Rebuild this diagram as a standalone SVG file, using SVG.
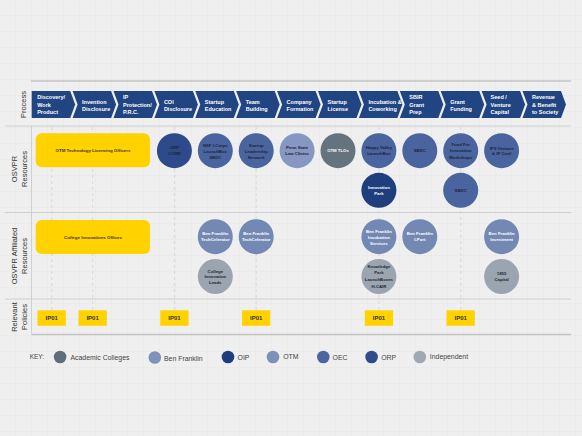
<svg xmlns="http://www.w3.org/2000/svg" width="582" height="436" viewBox="0 0 582 436">
<defs>
<pattern id="grid" width="16" height="16" patternUnits="userSpaceOnUse">
<path d="M16 0V16M0 16H16" fill="none" stroke="#e4e4e4" stroke-width="0.7"/>
</pattern>
<style>
text{font-family:"Liberation Sans",Arial,sans-serif}
.chev{fill:#214482}
.ct{fill:#fff;font-size:5.5px;font-weight:bold}
.row{fill:#333;font-size:7.5px;text-anchor:middle}
.sep{stroke:#cfcfcf;stroke-width:1;fill:none}
.heavy{stroke:#c4c4c4;stroke-width:1.6;fill:none}
.dash{stroke:#d2d2d2;stroke-width:0.8;stroke-dasharray:3 3;fill:none}
.yb{fill:#ffd200}
.yt{fill:#3a3424;font-size:4.4px;font-weight:bold;text-anchor:middle}
.nt{font-size:4.3px;font-weight:bold;text-anchor:middle}
.dk{fill:#1d2536}
.wt{fill:#ffffff}
.oec{fill:#4a64a0}
.orp{fill:#2e4a8a}
.oip{fill:#1e3e7e}
.otm{fill:#8597c2}
.acad{fill:#65737f}
.bf{fill:#7388b3}
.ind{fill:#9ba5b0}
.ip{fill:#ffd200}
.ipt{fill:#333;font-size:6px;font-weight:bold;text-anchor:middle}
.kt{fill:#444;font-size:6.9px}
</style>
</defs>
<rect width="582" height="436" fill="#efefef"/>
<rect width="582" height="436" fill="url(#grid)"/>

<g id="frame">
<line class="heavy" x1="31" y1="81" x2="571" y2="81"/>
<line class="sep" x1="5" y1="126" x2="571" y2="126"/>
<line class="sep" x1="5" y1="212.5" x2="571" y2="212.5"/>
<line class="sep" x1="5" y1="299" x2="571" y2="299"/>
<line class="heavy" x1="31.5" y1="334.5" x2="571" y2="334.5"/>
<line class="sep" x1="31.5" y1="126" x2="31.5" y2="334"/>
</g>

<g id="row-labels">
<text class="row" transform="rotate(-90 26 104.5)" x="26" y="104.5">Process</text>
<text class="row" transform="rotate(-90 17 169)" x="17" y="169">OSVPR</text>
<text class="row" transform="rotate(-90 27 169)" x="27" y="169">Resources</text>
<text class="row" transform="rotate(-90 17 256)" x="17" y="256">OSVPR Affiliated</text>
<text class="row" transform="rotate(-90 27 256)" x="27" y="256">Resources</text>
<text class="row" transform="rotate(-90 17 317)" x="17" y="317">Relevant</text>
<text class="row" transform="rotate(-90 27 317)" x="27" y="317">Policies</text>
</g>

<g id="connectors">
<line class="dash" x1="51.7" y1="127" x2="51.7" y2="310"/>
<line class="dash" x1="92.6" y1="127" x2="92.6" y2="310"/>
<line class="dash" x1="174.4" y1="127" x2="174.4" y2="310"/>
<line class="dash" x1="256.2" y1="127" x2="256.2" y2="310"/>
<line class="dash" x1="379" y1="127" x2="379" y2="310"/>
<line class="dash" x1="460.7" y1="127" x2="460.7" y2="310"/>
</g>

<g id="process">
<g id="p1"><polygon class="chev" points="31.7,91 70.2,91 75.2,104.5 70.2,118 31.7,118"/>
<text class="ct" x="37.2" y="99.3">Discovery/</text><text class="ct" x="37.2" y="106.5">Work</text><text class="ct" x="37.2" y="113.7">Product</text></g>
<g id="p2"><polygon class="chev" points="72.6,91 111.1,91 116.1,104.5 111.1,118 72.6,118 77.6,104.5"/>
<text class="ct" x="82.1" y="103.7">Invention</text><text class="ct" x="82.1" y="110.9">Disclosure</text></g>
<g id="p3"><polygon class="chev" points="113.5,91 152,91 157,104.5 152,118 113.5,118 118.5,104.5"/>
<text class="ct" x="123" y="99.3">IP</text><text class="ct" x="123" y="106.5">Protection/</text><text class="ct" x="123" y="113.7">P.R.C.</text></g>
<g id="p4"><polygon class="chev" points="154.4,91 192.9,91 197.9,104.5 192.9,118 154.4,118 159.4,104.5"/>
<text class="ct" x="163.9" y="103.7">COI</text><text class="ct" x="163.9" y="110.9">Disclosure</text></g>
<g id="p5"><polygon class="chev" points="195.3,91 233.8,91 238.8,104.5 233.8,118 195.3,118 200.3,104.5"/>
<text class="ct" x="204.8" y="103.7">Startup</text><text class="ct" x="204.8" y="110.9">Education</text></g>
<g id="p6"><polygon class="chev" points="236.2,91 274.7,91 279.7,104.5 274.7,118 236.2,118 241.2,104.5"/>
<text class="ct" x="245.7" y="103.7">Team</text><text class="ct" x="245.7" y="110.9">Building</text></g>
<g id="p7"><polygon class="chev" points="277.1,91 315.6,91 320.6,104.5 315.6,118 277.1,118 282.1,104.5"/>
<text class="ct" x="286.6" y="103.7">Company</text><text class="ct" x="286.6" y="110.9">Formation</text></g>
<g id="p8"><polygon class="chev" points="318,91 356.5,91 361.5,104.5 356.5,118 318,118 323,104.5"/>
<text class="ct" x="327.5" y="103.7">Startup</text><text class="ct" x="327.5" y="110.9">License</text></g>
<g id="p9"><polygon class="chev" points="358.9,91 397.4,91 402.4,104.5 397.4,118 358.9,118 363.9,104.5"/>
<text class="ct" x="368.4" y="103.7">Incubation &amp;</text><text class="ct" x="368.4" y="110.9">Coworking</text></g>
<g id="p10"><polygon class="chev" points="399.8,91 438.3,91 443.3,104.5 438.3,118 399.8,118 404.8,104.5"/>
<text class="ct" x="409.3" y="99.3">SBIR</text><text class="ct" x="409.3" y="106.5">Grant</text><text class="ct" x="409.3" y="113.7">Prep</text></g>
<g id="p11"><polygon class="chev" points="440.7,91 479.2,91 484.2,104.5 479.2,118 440.7,118 445.7,104.5"/>
<text class="ct" x="450.2" y="103.7">Grant</text><text class="ct" x="450.2" y="110.9">Funding</text></g>
<g id="p12"><polygon class="chev" points="481.6,91 520.1,91 525.1,104.5 520.1,118 481.6,118 486.6,104.5"/>
<text class="ct" x="490.6" y="99.3">Seed /</text><text class="ct" x="490.6" y="106.5">Venture</text><text class="ct" x="490.6" y="113.7">Capital</text></g>
<g id="p13"><polygon class="chev" points="522.5,91 561,91 566,104.5 561,118 522.5,118 527.5,104.5"/>
<text class="ct" x="532" y="99.3">Revenue</text><text class="ct" x="532" y="106.5">&amp; Benefit</text><text class="ct" x="532" y="113.7">to Society</text></g>
</g>

<g id="otm-tlo-officers"><rect class="yb" x="35.7" y="133.3" width="114.3" height="34" rx="6"/>
<text class="yt" x="93" y="151.8">OTM Technology Licensing Officers</text></g>

<g id="orp-core"><circle class="orp" cx="174.4" cy="150.7" r="17.5"/>
<text class="nt dk" x="174.4" y="149.2">ORP</text><text class="nt dk" x="174.4" y="155.2">CORE</text></g>
<g id="nsf-icorps"><circle class="oec" cx="215.3" cy="150.7" r="17.5"/>
<text class="nt dk" x="215.3" y="147.2">NSF I-Corps</text><text class="nt dk" x="215.3" y="153">LaunchBox</text><text class="nt dk" x="215.3" y="158.8">SBDC</text></g>
<g id="startup-leadership"><circle class="oec" cx="256.2" cy="150.7" r="17.5"/>
<text class="nt dk" x="256.2" y="147.2">Startup</text><text class="nt dk" x="256.2" y="153">Leadership</text><text class="nt dk" x="256.2" y="158.8">Network</text></g>
<g id="law-clinics"><circle class="otm" cx="297.1" cy="150.7" r="17.5"/>
<text class="nt dk" x="297.1" y="149.2">Penn State</text><text class="nt dk" x="297.1" y="155.2">Law Clinics</text></g>
<g id="otm-tlos"><circle class="acad" cx="338" cy="150.7" r="17.5"/>
<text class="nt wt" x="338" y="152.2">OTM TLOs</text></g>
<g id="happy-valley"><circle class="oec" cx="378.9" cy="150.7" r="17.5"/>
<text class="nt dk" x="378.9" y="149.2">Happy Valley</text><text class="nt dk" x="378.9" y="155.2">LaunchBox</text></g>
<g id="sbdc1"><circle class="oec" cx="419.8" cy="150.7" r="17.5"/>
<text class="nt dk" x="419.8" y="152.2">SBDC</text></g>
<g id="fund-innovation"><circle class="oec" cx="460.7" cy="150.7" r="17.5"/>
<text class="nt dk" x="460.7" y="145.5">Fund For</text><text class="nt dk" x="460.7" y="151.5">Innovation</text><text class="nt dk" x="460.7" y="158.8">Workshops</text></g>
<g id="ips-venture"><circle class="oec" cx="501.6" cy="150.7" r="17.5"/>
<text class="nt dk" x="501.6" y="149.8">IPS Venture</text><text class="nt dk" x="501.6" y="154.8">&amp; IP Conf</text></g>
<g id="innovation-park"><circle class="oip" cx="378.9" cy="190.3" r="17.5"/>
<text class="nt wt" x="378.9" y="188.8">Innovation</text><text class="nt wt" x="378.9" y="194.8">Park</text></g>
<g id="sbdc2"><circle class="oec" cx="460.7" cy="190.3" r="17.5"/>
<text class="nt dk" x="460.7" y="191.8">SBDC</text></g>

<g id="college-offices"><rect class="yb" x="35.7" y="220" width="114.3" height="34" rx="6"/>
<text class="yt" x="93" y="238.5">College Innovations Offices</text></g>
<g id="bf-techcelerator1"><circle class="bf" cx="215.3" cy="236.7" r="17.5"/>
<text class="nt wt" x="215.3" y="235.2">Ben Franklin</text><text class="nt wt" x="215.3" y="241.2">TechCelerator</text></g>
<g id="bf-techcelerator2"><circle class="bf" cx="256.2" cy="236.7" r="17.5"/>
<text class="nt wt" x="256.2" y="235.2">Ben Franklin</text><text class="nt wt" x="256.2" y="241.2">TechCelerator</text></g>
<g id="college-leads"><circle class="ind" cx="215.3" cy="276.5" r="17.5"/>
<text class="nt dk" x="215.3" y="272.5">College</text><text class="nt dk" x="215.3" y="278.3">Innovation</text><text class="nt dk" x="215.3" y="284.1">Leads</text></g>
<g id="bf-incubation"><circle class="bf" cx="378.9" cy="236.7" r="17.5"/>
<text class="nt wt" x="378.9" y="233">Ben Franklin</text><text class="nt wt" x="378.9" y="238.8">Incubation</text><text class="nt wt" x="378.9" y="244.6">Services</text></g>
<g id="bf-iport"><circle class="bf" cx="419.8" cy="236.7" r="17.5"/>
<text class="nt wt" x="419.8" y="235.2">Ben Franklin</text><text class="nt wt" x="419.8" y="241.2">I-Port</text></g>
<g id="bf-investment"><circle class="bf" cx="501.6" cy="236.7" r="17.5"/>
<text class="nt wt" x="501.6" y="235.2">Ben Franklin</text><text class="nt wt" x="501.6" y="241.2">Investment</text></g>
<g id="knowledge-park"><circle class="ind" cx="378.9" cy="276.5" r="17.5"/>
<text class="nt dk" x="378.9" y="268.3">Knowledge</text><text class="nt dk" x="378.9" y="273.8">Park</text><text class="nt dk" x="378.9" y="280.8">LaunchBoxes</text><text class="nt dk" x="378.9" y="288">H-CAIR</text></g>
<g id="capital-1855"><circle class="ind" cx="501.6" cy="276.5" r="17.5"/>
<text class="nt dk" x="501.6" y="275">1855</text><text class="nt dk" x="501.6" y="281">Capital</text></g>

<g id="policies">
<g id="ip01-1"><rect class="ip" x="37.5" y="310.3" width="28.3" height="15.5"/><text class="ipt" x="51.7" y="320.3">IP01</text></g>
<g id="ip01-2"><rect class="ip" x="78.5" y="310.3" width="28.3" height="15.5"/><text class="ipt" x="92.6" y="320.3">IP01</text></g>
<g id="ip01-3"><rect class="ip" x="160.3" y="310.3" width="28.3" height="15.5"/><text class="ipt" x="174.4" y="320.3">IP01</text></g>
<g id="ip01-4"><rect class="ip" x="242" y="310.3" width="28.3" height="15.5"/><text class="ipt" x="256.2" y="320.3">IP01</text></g>
<g id="ip01-5"><rect class="ip" x="364.8" y="310.3" width="28.3" height="15.5"/><text class="ipt" x="379" y="320.3">IP01</text></g>
<g id="ip01-6"><rect class="ip" x="446.5" y="310.3" width="28.3" height="15.5"/><text class="ipt" x="460.7" y="320.3">IP01</text></g>
</g>

<g id="key">
<text class="kt" x="29.7" y="359.3" style="font-size:6.5px">KEY:</text>
<circle cx="60.1" cy="357" r="6.3" fill="#5f6e7d"/><text class="kt" x="70.5" y="359.5">Academic Colleges</text>
<circle cx="154.8" cy="357.5" r="6.3" fill="#7e92bb"/><text class="kt" x="164" y="360.5">Ben Franklin</text>
<circle cx="228" cy="357" r="6.3" fill="#1f3d7c"/><text class="kt" x="237.6" y="359.5">OIP</text>
<circle cx="273" cy="357" r="6.3" fill="#7b90bb"/><text class="kt" x="283.2" y="359">OTM</text>
<circle cx="323.3" cy="357" r="6.3" fill="#4b65a0"/><text class="kt" x="332.6" y="359.5">OEC</text>
<circle cx="371.6" cy="357" r="6.3" fill="#2f4b8b"/><text class="kt" x="381.2" y="359.5">ORP</text>
<circle cx="419.8" cy="357" r="6.3" fill="#a0a9b3"/><text class="kt" x="429.8" y="359">Independent</text>
</g>
</svg>
